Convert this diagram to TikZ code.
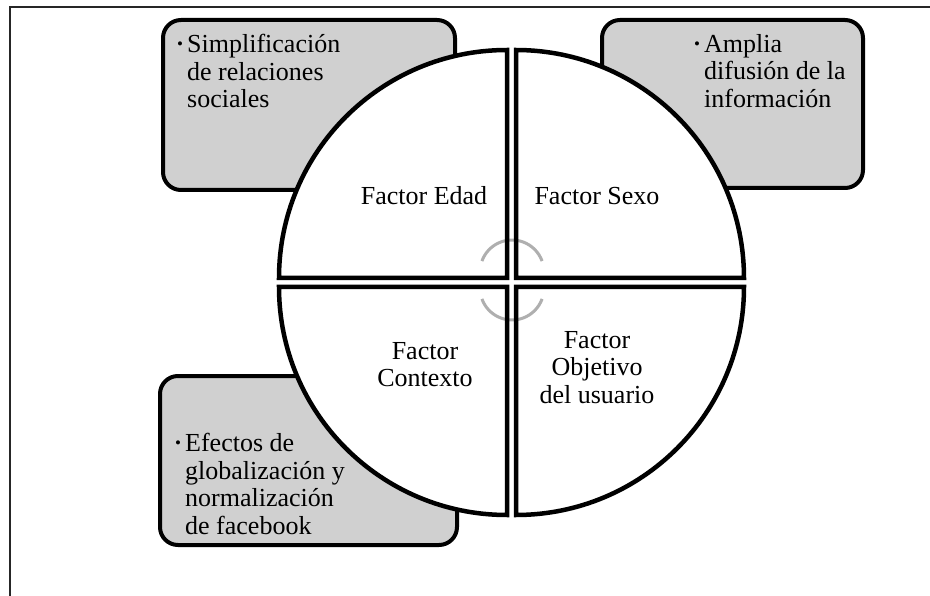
\documentclass[tikz,border=0pt]{standalone}
\usepackage{fontspec}
\setmainfont{Liberation Serif}
\newcommand\blt{\makebox[10pt][l]{\fontsize{17}{17}\selectfont\raisebox{3pt}{•}}}
\newcommand\ind{\hspace*{10pt}}
\definecolor{boxgray}{HTML}{D0D0D0}
\definecolor{arcgray}{HTML}{AFAFAF}
\tikzset{
  sidebox/.style={draw=black, line width=4pt, fill=boxgray, rounded corners=18pt, inner sep=0pt},
  quad/.style={draw=black, line width=4.5pt, line join=miter},
  quadfill/.style={fill=white},
  boxtext/.style={align=left, anchor=north west, inner sep=0pt, font=\fontsize{26}{27.5}\selectfont},
  quadtext/.style={align=center, inner sep=0pt, font=\fontsize{26}{27.5}\selectfont},
  cyclearc/.style={draw=arcgray, line width=3pt},
}
\begin{document}
\begin{tikzpicture}[x=1pt,y=1pt]
\useasboundingbox (0,0) rectangle (930,-596);
% frame
\draw[line width=1.5pt, black!85] (10,-596) -- (10,-7) -- (930,-7);
% side boxes
\node[sidebox, minimum width=292pt, minimum height=170pt] (bUL) at (309,-105) {};
\node[sidebox, minimum width=261pt, minimum height=168pt] (bUR) at (732.5,-104) {};
\node[sidebox, minimum width=297pt, minimum height=169pt] (bLL) at (308.5,-460.5) {};
% box texts
\node[boxtext] (tUL) at (177,-34) {\blt Simplificación\\\ind de relaciones\\\ind sociales};
\node[boxtext] (tUR) at (694,-34) {\blt Amplia\\\ind difusión de la\\\ind información};
\node[boxtext] (tLL) at (175,-433) {\blt Efectos de\\\ind globalización y\\\ind normalización\\\ind de facebook};
% quadrant fills
\fill[quadfill] (507,-278) -- (279,-278) arc[start angle=180,end angle=90,radius=228] -- cycle;
\fill[quadfill] (516,-278) -- (516,-50) arc[start angle=90,end angle=0,radius=228] -- cycle;
\fill[quadfill] (507,-287) -- (507,-515) arc[start angle=270,end angle=180,radius=228] -- cycle;
\fill[quadfill] (516,-287) -- (744,-287) arc[start angle=0,end angle=-90,radius=228] -- cycle;
% cycle arcs
\draw[cyclearc] (512,-272) ++(160:32) arc[start angle=160,end angle=20,radius=32];
\draw[cyclearc] (512,-288) ++(200:32) arc[start angle=200,end angle=340,radius=32];
% quadrant borders
\draw[quad] (507,-278) -- (279,-278) arc[start angle=180,end angle=90,radius=228] -- cycle;
\draw[quad] (516,-278) -- (516,-50) arc[start angle=90,end angle=0,radius=228] -- cycle;
\draw[quad] (507,-287) -- (507,-515) arc[start angle=270,end angle=180,radius=228] -- cycle;
\draw[quad] (516,-287) -- (744,-287) arc[start angle=0,end angle=-90,radius=228] -- cycle;
% quadrant labels
\node[quadtext, anchor=base] (qUL) at (424,-205) {Factor Edad};
\node[quadtext, anchor=base] (qUR) at (597,-205) {Factor Sexo};
\node[quadtext, anchor=north] (qLL) at (425,-342) {Factor\\Contexto};
\node[quadtext, anchor=north] (qLR) at (597,-331) {Factor\\Objetivo\\del usuario};
\end{tikzpicture}
\end{document}
